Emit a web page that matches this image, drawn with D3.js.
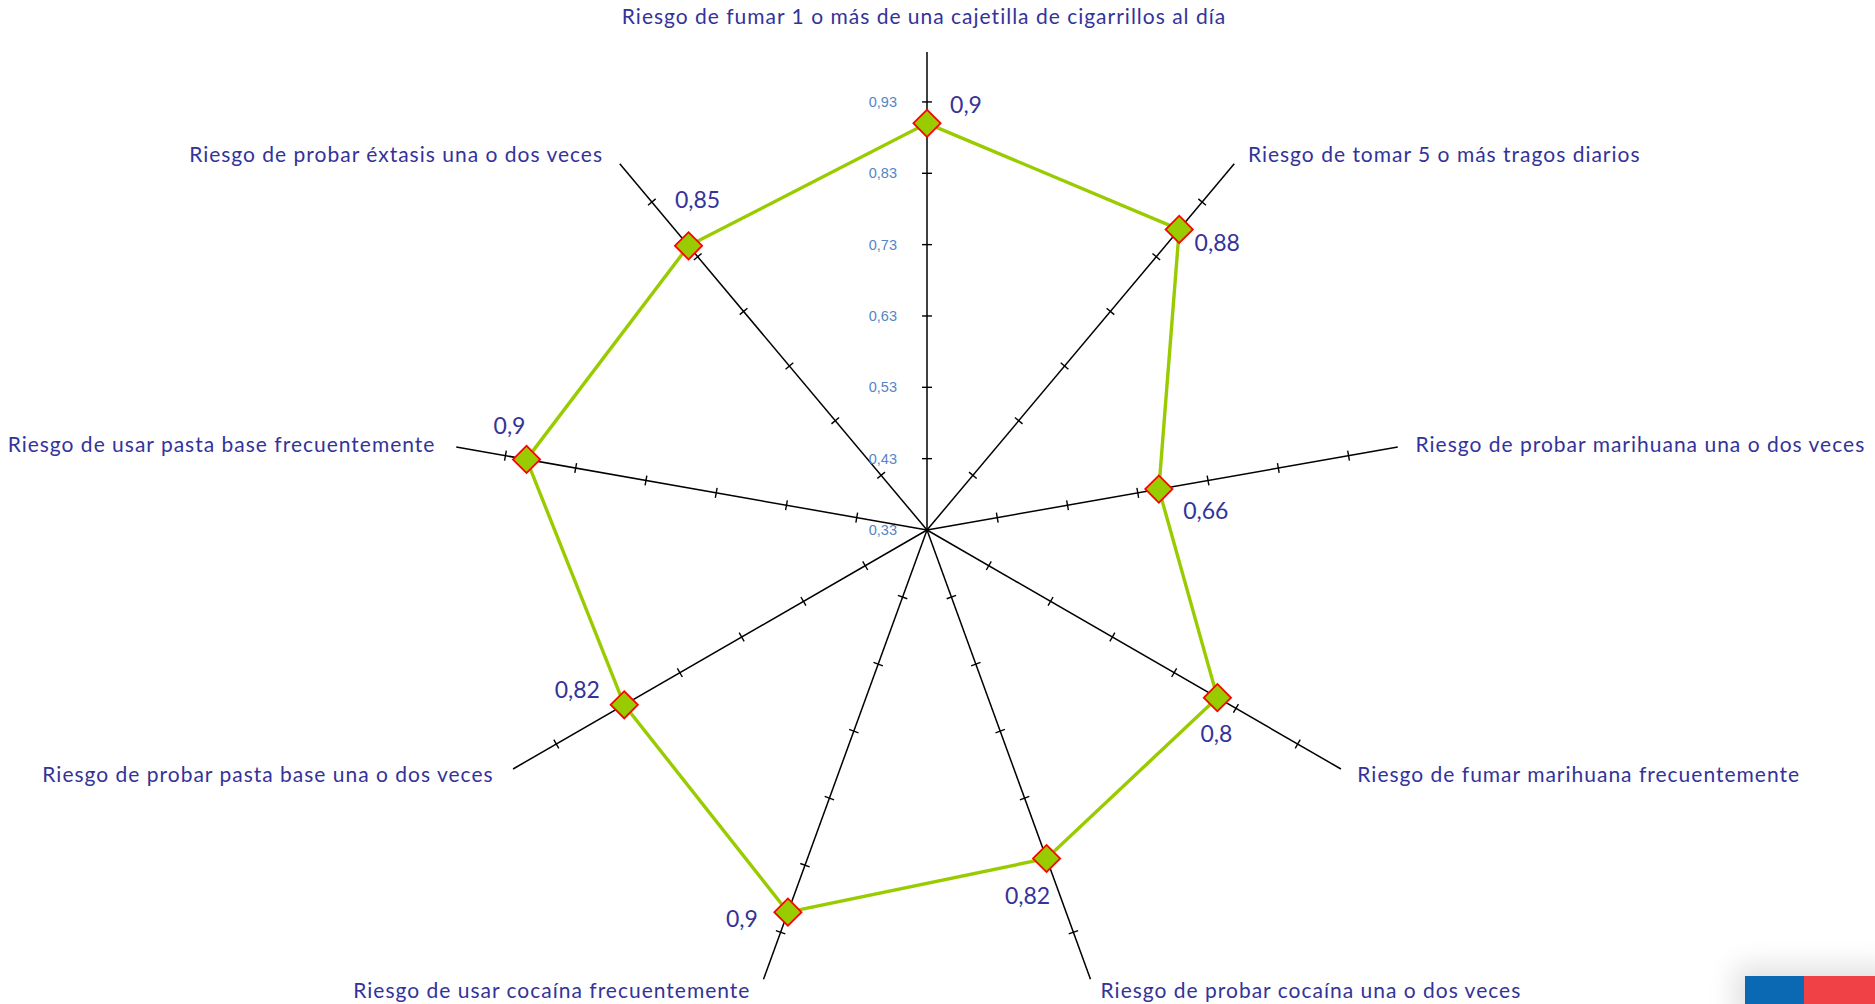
<!DOCTYPE html>
<html>
<head>
<meta charset="utf-8">
<script src="https://cdn.jsdelivr.net/npm/d3@7"></script>
<style>
  html, body { margin: 0; padding: 0; background: #fff; overflow: hidden; }
  svg { display: block; }
</style>
</head>
<body>
<div id="chart"></div>
<script>
var categories = [
  "Riesgo de fumar 1 o más de una cajetilla de cigarrillos al día",
  "Riesgo de tomar 5 o más tragos diarios",
  "Riesgo de probar marihuana una o dos veces",
  "Riesgo de fumar marihuana frecuentemente",
  "Riesgo de probar cocaína una o dos veces",
  "Riesgo de usar cocaína frecuentemente",
  "Riesgo de probar pasta base una o dos veces",
  "Riesgo de usar pasta base frecuentemente",
  "Riesgo de probar éxtasis una o dos veces"
];
var values = [0.9, 0.88, 0.66, 0.8, 0.82, 0.9, 0.82, 0.9, 0.85];
var tickValues = [0.33, 0.43, 0.53, 0.63, 0.73, 0.83, 0.93];
var axisMin = 0.33, axisMax = 1.0;

var width = 1875, height = 1004;
var cx = 927, cy = 530;

// label nudges, relative to each marker (px)
var valueLabelOffset = [[39, -18], [38, 14], [47, 22], [-1, 36], [-19, 37], [-46, 7], [-47, -15], [-17, -33], [9, -46]];

var locale = d3.formatLocale({decimal: ",", thousands: ".", grouping: [3], currency: ["$", ""]});
var fmtTick = locale.format(".2f");
var fmtVal = function(v) { return locale.format("~g")(v); };

var svg = d3.select("#chart").append("svg")
  .attr("width", width)
  .attr("height", height);

var r = d3.scaleLinear().domain([axisMin, axisMax]).range([0, 478]);
var angle = d3.scaleLinear().domain([0, categories.length]).range([0, 2 * Math.PI]);

function px(i, rad) { return cx + rad * Math.sin(angle(i)); }
function py(i, rad) { return cy - rad * Math.cos(angle(i)); }

var g = svg.append("g");

// axes
g.selectAll(".axis")
  .data(categories)
  .enter()
  .append("line")
  .attr("class", "axis")
  .attr("x1", cx).attr("y1", cy)
  .attr("x2", function(d, i) { return px(i, r(axisMax)); })
  .attr("y2", function(d, i) { return py(i, r(axisMax)); })
  .attr("stroke", "#000")
  .attr("stroke-width", 1.5);

// tick marks on every spoke
var tickData = [];
categories.forEach(function(c, i) {
  tickValues.slice(1).forEach(function(t) { tickData.push({i: i, t: t}); });
});
var tickHalf = 5;
g.selectAll(".tick")
  .data(tickData)
  .enter()
  .append("line")
  .attr("class", "tick")
  .attr("x1", function(d) { return px(d.i, r(d.t)) - tickHalf * Math.cos(angle(d.i)); })
  .attr("y1", function(d) { return py(d.i, r(d.t)) - tickHalf * Math.sin(angle(d.i)); })
  .attr("x2", function(d) { return px(d.i, r(d.t)) + tickHalf * Math.cos(angle(d.i)); })
  .attr("y2", function(d) { return py(d.i, r(d.t)) + tickHalf * Math.sin(angle(d.i)); })
  .attr("stroke", "#000")
  .attr("stroke-width", 1.4);

// tick labels on the first spoke
g.selectAll(".ticklabel")
  .data(tickValues)
  .enter()
  .append("text")
  .attr("class", "ticklabel")
  .attr("x", cx - 30)
  .attr("y", function(d) { return cy - r(d); })
  .attr("dy", "0.35em")
  .attr("text-anchor", "end")
  .attr("font-family", "Liberation Sans, Arial, sans-serif")
  .attr("font-size", 14.5)
  .attr("fill", "#5585c5")
  .text(function(d) { return fmtTick(d); });

// data polygon
var radarLine = d3.lineRadial()
  .angle(function(d, i) { return angle(i); })
  .radius(function(d) { return r(d); })
  .curve(d3.curveLinearClosed);

g.append("path")
  .datum(values)
  .attr("transform", "translate(" + cx + "," + cy + ")")
  .attr("d", radarLine)
  .attr("fill", "none")
  .attr("stroke", "#99cc00")
  .attr("stroke-width", 3.4);

// markers
var diamond = d3.symbol().type(d3.symbolSquare).size(370);
g.selectAll(".marker")
  .data(values)
  .enter()
  .append("path")
  .attr("class", "marker")
  .attr("d", diamond)
  .attr("transform", function(d, i) { return "translate(" + px(i, r(d)) + "," + py(i, r(d)) + ") rotate(45)"; })
  .attr("fill", "#99cc00")
  .attr("stroke", "#ff0000")
  .attr("stroke-width", 1.8);

// value labels
g.selectAll(".vlabel")
  .data(values)
  .enter()
  .append("text")
  .attr("class", "vlabel")
  .attr("x", function(d, i) { return px(i, r(d)) + valueLabelOffset[i][0]; })
  .attr("y", function(d, i) { return py(i, r(d)) + valueLabelOffset[i][1]; })
  .attr("dy", "0.35em")
  .attr("text-anchor", "middle")
  .attr("font-family", "Lato, sans-serif")
  .attr("font-size", 23)
  .attr("fill", "#333399")
  .text(function(d) { return fmtVal(d); });

// category labels
g.selectAll(".clabel")
  .data(categories)
  .enter()
  .append("text")
  .attr("class", "clabel")
  .attr("x", function(d, i) {
    var s = Math.sin(angle(i));
    if (i === 0) return cx - 3;
    return px(i, r(axisMax)) + 12 * s + (s > 0 ? 6 : -9);
  })
  .attr("y", function(d, i) {
    if (i === 0) return py(i, r(axisMax)) - 35;
    return py(i, r(axisMax)) - 12 * Math.cos(angle(i));
  })
  .attr("dy", "0.35em")
  .attr("text-anchor", function(d, i) {
    if (i === 0) return "middle";
    return Math.sin(angle(i)) > 0 ? "start" : "end";
  })
  .attr("font-family", "Lato, sans-serif")
  .attr("font-size", 21)
  .attr("letter-spacing", 1)
  .attr("fill", "#333399")
  .text(function(d) { return d; });

// corner flag
var defs = svg.append("defs");
defs.append("filter").attr("id", "soft")
  .attr("x", "-50%").attr("y", "-50%").attr("width", "200%").attr("height", "200%")
  .append("feGaussianBlur").attr("stdDeviation", 14);
svg.append("rect")
  .attr("x", 1735).attr("y", 966).attr("width", 160).attr("height", 60)
  .attr("fill", "#000").attr("opacity", 0.12)
  .attr("filter", "url(#soft)");
svg.append("rect")
  .attr("x", 1745).attr("y", 976).attr("width", 59).attr("height", 28)
  .attr("fill", "#0b69b4");
svg.append("rect")
  .attr("x", 1804).attr("y", 976).attr("width", 71).attr("height", 28)
  .attr("fill", "#ef4146");
</script>
</body>
</html>
